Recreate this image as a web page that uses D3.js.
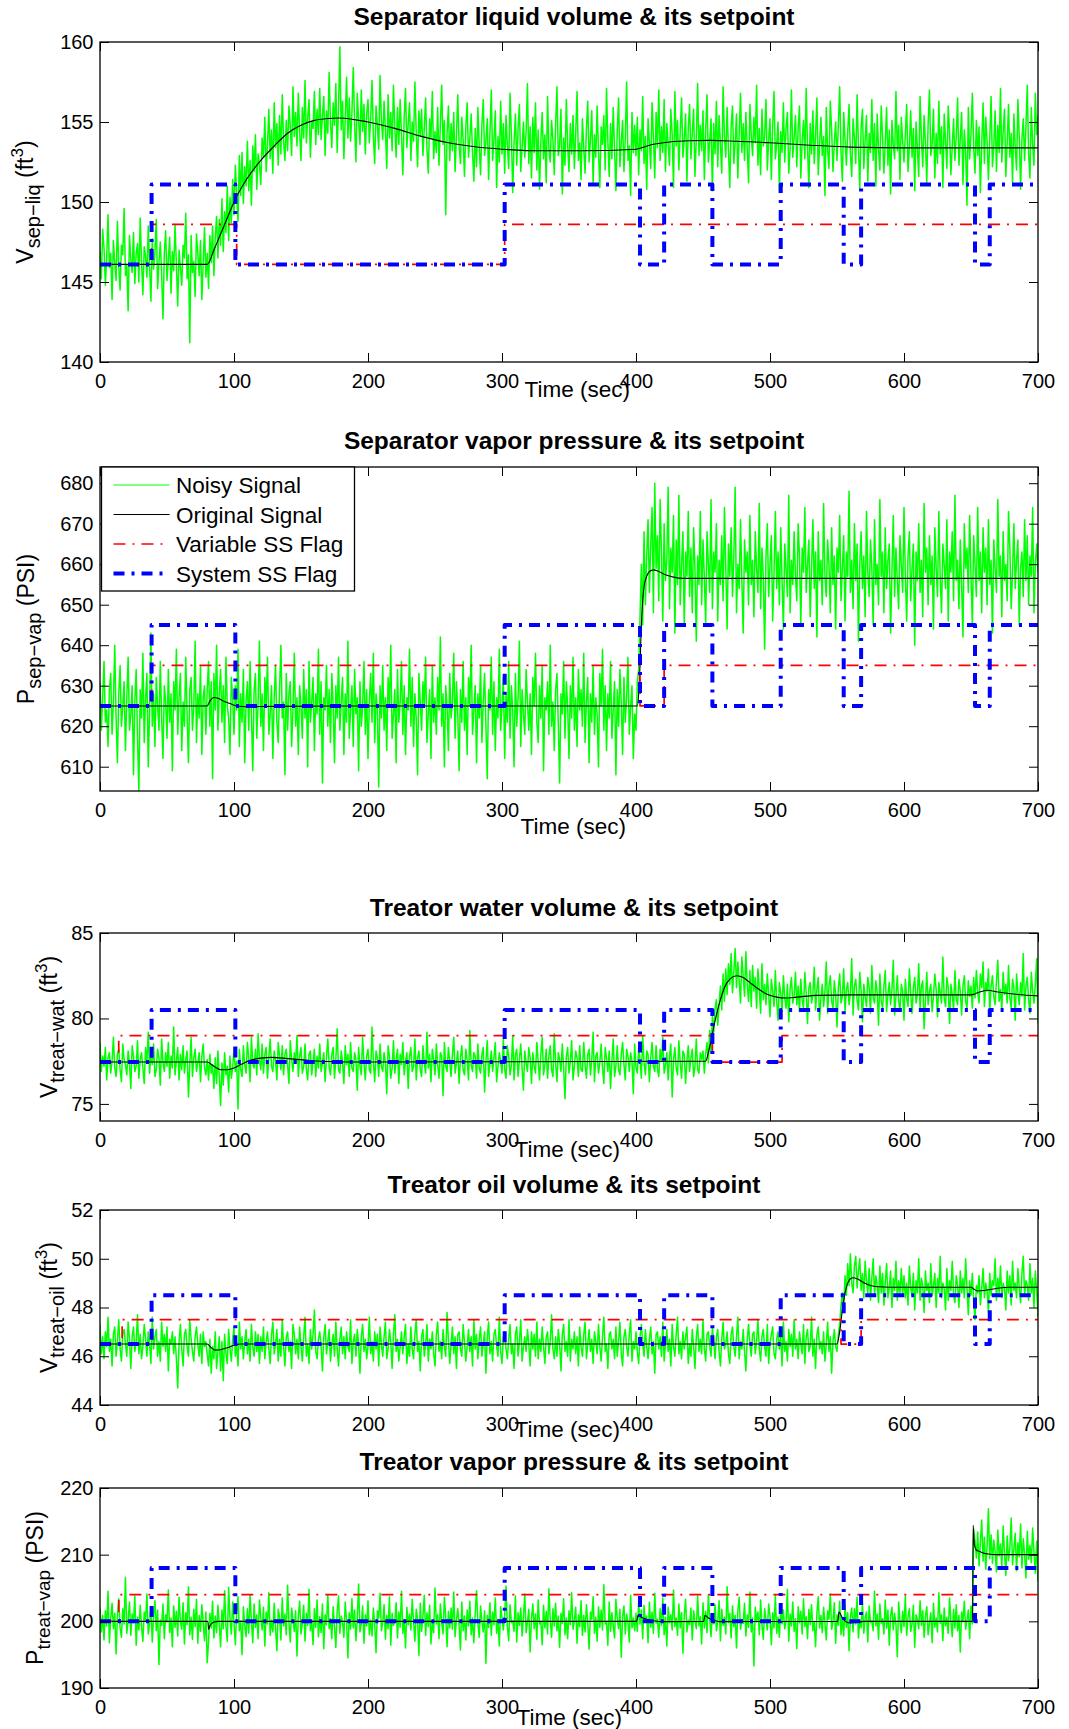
<!DOCTYPE html>
<html><head><meta charset="utf-8">
<script src="https://cdn.jsdelivr.net/npm/d3@7"></script>
<style>body{margin:0;background:#fff}svg text{font-family:"Liberation Sans",Arial,Helvetica,sans-serif;fill:#000}</style>
</head><body><svg id="chart" width="1069" height="1729"></svg>
<script>
// ---------------- DATA ----------------
const timeTicks = [0, 100, 200, 300, 400, 500, 600, 700];
const sampleStep = 1; // seconds between noisy samples (t = 0 ... 700)
const legendLabels = ["Noisy Signal", "Original Signal", "Variable SS Flag", "System SS Flag"];

// System steady-state flag (common to all panels): transition times and state (0 = low, 1 = high)
const systemFlagTimes = [0, 38.5, 101, 302, 403, 421, 457, 508, 555, 568, 653, 664, 700];
const systemFlagStates = [0, 1, 0, 1, 0, 1, 0, 1, 0, 1, 0, 1, 1];

// ---- Panel 1: Separator liquid volume ----
const sepLiqTitle = "Separator liquid volume & its setpoint";
const sepLiqYTicks = [140, 145, 150, 155, 160];
const sepLiqOrigTimes = [0, 80, 85, 90, 95, 100, 110, 120, 130, 140, 150, 160, 170, 178, 190, 200, 220, 240, 260, 280, 300, 330, 360, 400, 410, 425, 440, 455, 475, 500, 530, 560, 600, 650, 700];
const sepLiqOrigValues = [146.1, 146.1, 147.0, 148.0, 149.0, 150.0, 151.5, 152.6, 153.5, 154.3, 154.8, 155.1, 155.22, 155.25, 155.15, 155.0, 154.6, 154.1, 153.7, 153.45, 153.3, 153.2, 153.2, 153.3, 153.55, 153.75, 153.83, 153.85, 153.8, 153.7, 153.55, 153.43, 153.38, 153.38, 153.38];
const sepLiqVarFlagTimes = [0, 38.5, 102, 302, 700];
const sepLiqVarFlagStates = [0, 1, 0, 1, 1];
const sepLiqVarLevels = [146.1, 148.6];
const sepLiqSysLevels = [146.1, 151.1];
const sepLiqNoisy = [
146.9,145.2,148.3,147.1,144.8,146.5,149.2,145.9,146.8,143.9,147.6,146.2,145.1,148.8,146.0,144.5,147.3,146.7,149.6,145.4,
146.1,143.2,147.9,146.4,145.6,148.1,144.9,146.8,147.4,145.0,149.0,146.3,144.2,147.2,146.6,145.3,148.5,146.0,143.8,147.7,
145.8,146.9,148.9,144.6,146.2,147.5,145.5,142.7,146.8,148.2,145.1,146.4,147.8,144.3,146.9,145.7,148.6,146.1,143.5,147.0,
145.9,144.8,147.3,146.5,149.3,145.2,146.7,141.2,147.9,145.6,146.3,144.1,148.0,146.8,145.4,147.6,143.9,146.2,148.4,145.3,
146.8,144.6,147.9,146.2,148.5,145.4,147.8,149.1,146.5,148.9,147.3,150.2,146.9,149.4,148.1,151.0,147.6,150.3,148.7,151.4,
149.2,152.3,150.6,148.8,152.9,150.4,153.1,149.9,152.2,151.0,153.8,150.7,152.6,149.8,153.5,151.9,154.2,150.8,153.0,152.4,
151.1,154.0,152.8,155.3,151.9,153.6,155.8,152.7,154.5,151.8,156.2,153.4,154.9,152.3,155.4,153.0,156.7,153.8,152.6,155.1,
153.2,156.0,154.7,152.9,157.2,154.1,155.6,153.5,156.8,154.4,152.6,155.9,154.0,157.6,153.7,155.3,156.4,152.8,155.0,154.6,
156.9,153.6,155.8,154.2,157.1,153.9,155.4,156.6,152.9,155.7,154.3,158.1,155.0,153.4,156.2,154.8,157.4,153.1,155.9,159.7,
154.5,156.3,152.7,155.2,157.8,154.0,156.5,153.8,155.6,158.4,154.9,152.5,156.8,155.1,153.6,157.0,154.4,156.1,153.0,155.5,
156.4,153.7,155.2,157.6,154.1,152.4,156.0,154.8,153.3,157.9,155.1,153.9,156.3,154.5,152.1,156.7,154.0,155.6,153.2,157.3,
154.7,152.8,155.9,153.6,156.4,154.2,151.7,155.3,157.1,153.4,154.9,156.2,152.6,155.0,153.8,157.5,154.3,152.2,155.7,154.1,
155.8,152.9,154.6,156.5,153.3,151.8,155.2,154.0,156.9,152.7,154.4,153.1,155.9,152.3,154.8,157.3,153.6,155.1,149.2,154.3,
156.0,152.6,154.9,153.2,155.6,151.9,154.1,156.7,153.5,152.4,155.3,153.9,151.6,154.7,156.2,152.8,154.0,155.5,153.1,151.3,
154.6,152.2,155.9,153.5,151.7,154.8,156.4,152.9,153.8,155.2,151.4,154.3,157.0,152.6,153.9,155.7,150.9,154.1,152.5,156.3,
153.0,154.9,151.8,155.4,153.6,152.1,156.8,154.2,150.6,153.7,155.5,152.3,154.6,156.1,151.9,153.4,155.0,152.8,154.4,157.4,
152.4,154.7,151.5,155.3,153.1,156.2,152.0,154.5,150.8,153.8,155.6,152.7,154.2,151.2,156.6,153.3,152.5,155.1,153.9,151.7,
154.8,157.2,152.9,153.6,155.8,150.5,154.0,152.3,156.4,153.5,151.9,154.9,153.0,155.4,152.1,154.3,156.9,152.6,153.7,151.4,
155.2,153.4,151.8,154.6,156.3,152.5,153.9,155.7,151.1,154.2,152.8,156.0,153.2,150.9,154.7,153.6,155.4,152.0,157.1,153.8,
151.6,154.9,152.7,155.9,153.3,150.7,154.4,156.5,152.2,153.7,155.1,151.9,154.0,157.5,152.6,153.5,150.4,155.6,153.1,154.8,
152.9,155.3,151.7,154.5,153.2,156.6,152.4,154.1,150.8,155.2,153.7,152.1,156.2,154.0,151.5,155.6,153.4,157.0,152.6,154.7,
153.1,156.4,151.9,154.9,153.6,152.3,155.8,154.2,150.9,156.9,153.5,155.1,152.0,154.4,156.5,152.8,153.9,155.5,151.3,154.6,
156.1,152.7,154.3,155.8,151.6,153.9,157.4,152.9,154.8,153.2,155.7,151.4,154.5,156.7,152.5,153.8,155.2,150.7,154.9,153.0,
156.3,152.2,155.4,153.6,151.8,157.2,154.1,152.8,155.9,153.3,150.9,154.7,156.0,152.4,153.7,155.5,151.5,154.3,156.8,153.1,
154.9,152.6,155.6,153.4,151.2,156.1,154.2,152.9,155.3,153.7,157.3,152.3,154.6,151.7,155.8,153.5,154.1,156.4,152.0,153.9,
155.2,151.4,154.8,156.9,152.7,153.6,155.0,150.6,154.4,153.1,156.2,152.5,154.7,155.6,151.8,153.3,157.0,152.8,154.0,155.4,
152.2,154.6,156.0,151.5,153.8,155.1,152.7,157.1,153.4,150.9,154.9,153.0,155.7,152.4,154.2,156.5,151.7,153.6,155.3,152.9,
154.1,150.4,155.9,153.2,152.1,156.3,154.5,151.9,153.7,155.0,152.6,154.8,157.2,153.1,151.3,155.6,153.9,152.3,154.4,156.1,
153.0,151.6,155.2,154.0,152.4,156.7,153.5,150.8,154.6,155.8,152.1,153.9,155.4,151.3,154.3,153.1,156.4,152.6,154.9,151.0,
155.5,153.3,152.0,156.0,154.1,151.8,153.7,155.9,152.3,154.5,150.5,155.1,153.6,152.7,156.9,153.2,154.8,151.4,155.3,153.8,
152.5,154.2,156.1,151.9,153.4,155.7,152.8,154.6,150.7,155.0,153.3,151.6,156.6,154.0,152.2,155.4,153.7,151.2,154.9,157.0,
152.9,153.6,155.8,151.5,154.3,152.4,156.3,153.0,154.7,150.9,155.5,153.8,152.1,156.0,154.4,151.7,153.5,155.2,152.6,154.1,
156.5,152.3,153.9,155.6,151.1,154.5,153.2,149.8,155.9,152.7,154.2,156.8,153.4,151.8,155.1,152.9,154.7,150.6,153.6,156.2,
152.4,155.3,153.8,151.4,154.0,156.6,152.2,153.5,155.7,151.9,154.8,153.1,157.1,152.5,154.4,155.8,151.6,153.7,156.1,152.8,
154.3,151.2,155.5,153.4,152.0,156.4,154.1,150.8,153.9,155.2,152.6,154.7,157.3,153.0,151.5,155.9,153.6,152.3,156.8,154.2,155.4
];

// ---- Panel 2: Separator vapor pressure ----
const sepVapTitle = "Separator vapor pressure & its setpoint";
const sepVapYTicks = [610, 620, 630, 640, 650, 660, 670, 680];
const sepVapOrigTimes = [0, 80, 82, 85, 88, 92, 97, 102, 110, 130, 200, 401, 402, 403, 404, 405, 406, 408, 410, 413, 417, 422, 428, 435, 700];
const sepVapOrigValues = [625, 625, 626.2, 627.1, 626.9, 626.2, 625.6, 625.0, 624.8, 624.9, 625, 625, 628, 635, 645, 651, 654.5, 657, 658.2, 658.6, 658.2, 657.4, 656.8, 656.5, 656.5];
const sepVapVarFlagTimes = [0, 38.5, 403, 421, 700];
const sepVapVarFlagStates = [0, 1, 0, 1, 1];
const sepVapVarLevels = [625, 635];
const sepVapSysLevels = [625, 645];
const sepVapNoisy = [
631,619,627,636,621,624,615,629,633,618,626,640,622,611,628,635,620,625,631,614,
627,637,619,623,630,608,626,634,617,604,629,622,638,616,627,633,610,624,643,620,
628,615,632,625,619,636,622,612,630,626,617,634,621,628,609,631,624,639,618,627,
633,614,626,620,637,623,611,629,632,619,625,641,616,628,622,635,613,627,630,618,
629,636,620,631,607,633,624,640,619,628,634,621,630,616,637,625,622,613,632,627,
618,630,624,639,615,628,621,634,611,626,631,619,636,623,609,629,633,617,626,641,
620,628,614,632,625,637,618,623,630,612,627,635,621,616,629,640,622,626,608,633,
619,628,631,615,624,638,620,627,613,630,625,617,634,622,629,610,636,621,626,632,
614,628,623,639,618,631,606,627,624,635,620,629,616,633,625,611,630,622,637,619,
626,632,613,628,621,641,617,624,630,615,634,623,627,609,631,620,625,636,618,629,
612,626,633,621,638,616,628,624,605,630,622,635,619,627,614,632,625,640,617,623,
629,611,634,621,626,636,618,630,613,627,624,639,620,632,615,628,622,608,633,626,
619,631,625,637,616,623,629,612,635,621,627,618,632,624,642,620,628,610,630,625,
614,633,622,626,638,617,631,623,609,629,621,636,619,627,613,632,625,640,618,624,
630,611,628,622,635,616,626,633,620,607,629,624,637,618,631,614,627,622,639,619,
625,632,612,628,621,636,617,630,624,610,633,620,627,641,615,629,623,618,634,626,
619,628,613,632,625,638,621,616,630,622,635,609,627,624,631,618,640,620,626,614,
629,633,621,606,628,623,636,617,631,625,612,630,622,637,619,627,615,634,624,629,
620,638,616,626,632,611,628,621,635,618,627,623,610,633,625,639,619,630,614,628,
622,636,617,624,631,608,629,620,634,626,613,632,621,627,637,618,625,630,612,623,
619,631,634,647,660,645,668,650,662,671,653,665,674,648,680,659,667,651,676,663,
646,670,656,661,679,649,664,658,672,643,666,655,677,650,660,668,645,663,657,673,
652,664,648,669,659,641,662,655,673,650,666,657,645,668,660,653,676,649,663,658,
670,646,661,655,667,651,674,659,644,665,657,669,652,662,679,648,660,654,671,656,
643,666,658,663,650,672,655,661,647,668,659,653,675,649,664,657,639,662,670,652,
660,667,646,658,673,654,663,650,669,656,644,665,659,652,677,648,661,655,668,657,
651,670,662,645,664,658,674,653,660,666,647,659,671,654,663,642,668,656,661,650,
675,657,652,666,660,648,669,655,662,644,664,658,672,651,659,667,646,663,657,678,
653,661,649,670,656,665,641,660,668,654,662,647,673,658,652,666,659,645,671,655,
660,650,676,657,663,648,669,654,661,665,643,658,672,652,664,656,649,667,660,653,
674,657,646,662,668,651,659,665,640,663,656,670,653,661,647,675,658,664,650,667,
655,662,644,669,659,652,673,657,648,665,660,654,671,646,663,658,668,651,677,656,
661,649,666,655,642,670,659,664,653,672,657,645,667,660,652,674,656,663,648,669,
658,664,650,671,655,661,643,666,659,653,676,657,662,647,668,656,660,651,673,664,
649,658,670,654,661,666,645,659,663,652,671,656,667,650,662,657,674,648,660,665,658
];

// ---- Panel 3: Treator water volume ----
const treatWatTitle = "Treator water volume & its setpoint";
const treatWatYTicks = [75, 80, 85];
const treatWatOrigTimes = [0, 80, 85, 90, 95, 100, 105, 112, 120, 128, 140, 155, 170, 200, 452, 454, 456, 458, 460, 463, 466, 470, 475, 480, 485, 490, 497, 505, 512, 520, 535, 560, 650, 655, 662, 670, 685, 700];
const treatWatOrigValues = [77.45, 77.45, 77.2, 77.0, 77.0, 77.1, 77.3, 77.55, 77.68, 77.72, 77.65, 77.55, 77.48, 77.45, 77.5, 78.0, 78.7, 79.5, 80.2, 81.1, 81.8, 82.3, 82.5, 82.4, 82.1, 81.8, 81.45, 81.25, 81.2, 81.25, 81.35, 81.38, 81.38, 81.5, 81.65, 81.55, 81.4, 81.32];
const treatWatVarFlagTimes = [0, 14, 457, 509, 700];
const treatWatVarFlagStates = [0, 1, 0, 1, 1];
const treatWatVarLevels = [77.45, 79.0];
const treatWatSysLevels = [77.45, 80.5];
const treatWatNoisy = [
78.6,76.9,77.8,77.2,78.3,76.4,77.7,78.0,76.8,77.5,78.9,77.1,76.6,77.9,78.2,77.0,76.3,78.5,77.6,77.3,
76.7,78.1,77.4,75.9,78.4,77.8,76.9,77.2,78.7,76.5,77.6,78.0,77.1,76.2,78.3,77.5,79.2,76.8,77.9,77.3,
78.5,76.6,77.0,78.2,77.7,76.1,78.8,77.4,76.9,78.0,77.2,78.6,76.5,77.8,77.1,79.5,76.7,77.5,78.3,76.4,
77.9,77.0,78.4,76.8,77.6,78.1,75.4,77.3,78.9,76.6,77.7,78.2,76.9,77.4,78.0,76.3,77.8,78.5,77.1,76.7,
77.6,76.4,77.9,76.8,77.3,75.9,77.7,76.2,78.1,76.6,74.9,77.4,76.1,78.0,76.7,77.2,75.7,77.8,76.5,77.1,
78.3,76.9,77.5,74.7,78.2,77.0,76.6,78.4,77.3,76.8,78.6,77.7,76.3,78.9,77.4,77.1,78.2,76.7,79.1,77.6,
77.0,78.5,76.8,77.9,78.3,76.5,77.7,78.8,77.2,76.9,78.1,77.5,76.4,78.6,77.8,77.0,78.4,76.7,77.9,78.2,
77.3,76.2,78.7,77.6,76.9,78.0,77.4,79.0,76.6,77.8,78.3,76.8,77.2,78.5,77.0,76.4,77.9,78.1,76.7,77.5,
78.2,76.6,77.8,77.1,78.5,76.9,77.4,78.0,76.3,77.7,78.8,77.2,76.7,77.9,78.3,76.5,77.6,79.4,77.0,76.8,
78.1,77.5,76.2,78.4,77.3,77.9,76.6,78.6,77.1,76.9,78.0,77.6,75.8,78.3,77.2,76.7,78.9,77.4,76.4,77.8,
78.2,77.0,76.8,79.5,77.5,76.3,78.1,77.7,76.6,78.5,77.2,76.9,78.0,77.4,75.6,78.4,77.8,76.5,77.1,78.7,
76.8,77.6,78.2,76.2,77.9,77.3,78.6,76.7,77.5,78.0,75.9,77.8,78.3,76.9,77.2,78.8,76.4,77.7,78.1,77.0,
76.6,78.4,77.4,76.8,79.2,77.1,77.9,76.3,78.2,77.6,76.7,78.5,77.3,76.5,78.0,77.8,75.5,78.6,77.2,76.9,
78.3,77.5,76.6,77.9,78.9,76.8,77.4,78.1,76.2,77.7,78.4,77.0,76.7,78.2,77.6,76.4,79.3,77.3,76.9,78.0,
77.8,76.5,78.5,77.1,76.8,77.9,78.3,75.7,77.5,78.7,76.6,77.4,78.1,76.9,77.7,78.6,76.3,77.2,78.0,77.5,
76.8,78.8,77.0,76.5,78.4,77.8,76.7,77.3,79.0,76.4,77.9,78.2,76.6,77.6,78.5,77.1,75.8,78.1,77.4,76.9,
78.3,77.7,76.2,78.0,77.2,76.8,78.6,77.5,76.4,77.9,78.9,76.7,77.3,78.2,76.5,77.8,78.4,77.0,76.6,79.1,
77.4,76.3,78.0,77.6,76.9,78.5,77.1,75.3,77.8,78.3,76.8,77.5,78.7,76.4,77.2,78.1,77.7,76.6,78.4,77.0,
76.9,78.6,77.3,76.5,77.9,78.2,76.7,77.6,79.2,76.3,77.8,78.0,76.8,77.4,78.5,77.1,76.2,78.3,77.7,76.9,
78.1,75.9,77.5,78.8,76.6,77.2,78.4,77.0,76.7,77.9,78.6,77.3,76.4,78.2,77.8,76.9,78.0,77.5,75.6,78.5,
77.1,76.8,78.3,77.6,76.5,79.0,77.4,76.7,78.1,77.9,76.3,77.7,78.6,77.2,76.9,78.4,77.0,76.6,78.2,77.5,
78.9,76.8,77.3,78.0,76.4,77.8,78.5,75.4,77.6,78.3,77.1,76.7,78.7,77.4,76.5,78.1,77.9,76.2,77.5,78.4,
76.9,77.7,78.2,76.6,77.2,78.8,77.0,76.8,78.0,77.6,
78.1,76.8,77.9,78.6,77.4,79.3,78.0,80.1,79.2,80.6,81.1,79.6,80.8,81.9,80.5,82.6,81.0,82.9,81.4,83.2,
82.0,83.8,81.5,82.7,84.1,81.8,83.3,82.2,80.9,83.6,82.5,81.3,83.9,82.0,81.0,82.8,80.7,83.1,81.6,82.4,
80.6,82.9,81.7,80.3,83.2,81.1,82.0,80.8,82.6,81.4,80.1,82.3,81.6,80.7,82.8,81.0,79.9,82.1,81.5,80.4,
82.5,81.2,80.6,82.0,79.8,81.7,82.4,80.9,81.3,82.7,
80.8,81.9,80.4,82.3,81.1,80.6,82.7,81.5,79.7,81.8,82.1,80.9,81.4,83.0,80.5,81.7,82.4,79.9,81.2,82.0,
80.7,81.6,83.3,80.3,81.9,82.5,81.0,80.6,82.2,81.4,79.5,81.8,82.6,80.9,81.3,82.9,80.4,81.7,82.1,80.8,
81.5,83.5,80.2,81.9,82.3,81.1,80.5,82.7,81.6,79.8,82.0,81.3,80.7,82.4,81.8,80.3,83.1,81.2,80.9,82.2,
81.5,79.6,82.6,81.0,80.6,81.9,82.8,80.4,81.4,82.1,80.8,81.7,83.4,80.2,81.3,82.5,81.0,80.5,82.0,81.6,
79.9,82.3,81.2,80.7,82.9,81.5,80.3,81.8,82.4,80.9,81.4,83.2,80.6,81.9,82.2,79.4,81.1,82.7,80.8,81.6,
82.0,80.4,81.3,82.6,81.7,80.1,82.1,81.5,80.9,83.6,81.2,80.7,82.4,81.8,79.7,82.0,81.4,80.5,82.8,81.1,
80.8,82.3,81.6,80.2,81.9,82.5,81.0,80.6,82.2,81.3,
81.9,80.6,82.4,81.2,82.8,81.5,80.9,82.6,81.8,83.3,80.7,82.1,81.6,82.9,80.4,81.9,82.5,81.3,80.8,82.2,
83.4,81.0,81.7,80.5,82.7,81.4,82.0,80.9,83.1,81.2,80.6,82.3,81.8,79.9,82.6,81.5,80.8,82.1,81.3,83.8,
80.5,81.9,82.4,81.1,80.3,82.7,81.6,80.9,82.0,83.5,79.7
];

// ---- Panel 4: Treator oil volume ----
const treatOilTitle = "Treator oil volume & its setpoint";
const treatOilYTicks = [44, 46, 48, 50, 52];
const treatOilOrigTimes = [0, 80, 83, 86, 90, 95, 100, 105, 550, 552, 554, 556, 558, 560, 562, 565, 570, 575, 580, 590, 650, 652, 655, 660, 668, 678, 700];
const treatOilOrigValues = [46.5, 46.5, 46.35, 46.25, 46.27, 46.35, 46.45, 46.5, 46.5, 47.0, 47.9, 48.6, 49.0, 49.18, 49.22, 49.18, 49.02, 48.9, 48.85, 48.83, 48.83, 48.76, 48.68, 48.7, 48.77, 48.83, 48.83];
const treatOilVarFlagTimes = [0, 16.5, 553, 568, 700];
const treatOilVarFlagStates = [0, 1, 0, 1, 1];
const treatOilVarLevels = [46.5, 47.5];
const treatOilSysLevels = [46.5, 48.5];
const treatOilNoisy = [
47.3,46.1,46.8,45.9,47.0,46.4,47.6,46.2,46.7,45.6,46.9,47.2,46.0,46.6,47.5,46.3,45.8,46.9,47.1,46.5,
46.0,47.4,46.7,45.5,46.8,47.2,46.2,46.6,47.7,46.1,46.9,45.9,46.4,47.3,46.7,46.0,47.0,46.5,45.7,47.6,
46.3,46.8,47.1,46.0,46.6,45.8,47.4,46.4,46.9,46.2,47.2,45.4,46.7,46.5,47.0,46.1,46.8,45.9,44.7,46.6,
47.3,46.3,45.6,46.9,47.1,46.4,46.0,47.5,46.7,46.2,45.8,46.8,47.2,46.5,46.0,46.9,45.7,47.0,46.4,46.6,
46.1,45.6,46.7,45.3,46.4,45.9,47.0,45.5,46.2,46.8,45.4,46.6,45.0,46.9,46.1,45.7,47.1,46.3,45.8,46.7,
47.2,46.0,46.5,45.6,47.4,46.3,46.8,45.9,46.6,47.1,46.1,46.7,45.8,47.3,46.4,46.0,47.0,46.2,46.9,45.7,
46.8,46.2,47.2,45.9,46.6,47.0,46.3,45.7,46.9,47.4,46.1,46.5,47.1,45.8,46.7,46.0,47.5,46.4,45.6,46.8,
47.0,46.2,46.6,45.5,47.3,46.9,46.1,46.7,45.9,47.2,46.4,45.8,46.8,47.6,46.0,46.5,45.7,47.1,46.3,46.9,
47.9,46.2,45.9,46.7,47.0,46.4,45.4,46.8,47.3,46.1,46.6,47.1,45.8,46.5,46.9,46.0,47.4,46.3,45.6,46.7,
47.2,46.1,46.8,45.9,47.0,46.4,46.2,47.5,45.7,46.6,46.9,46.0,47.1,46.5,45.3,46.8,47.3,46.2,46.7,45.9,
46.4,47.6,46.1,46.6,45.8,47.0,46.3,46.9,45.6,47.2,46.5,46.0,46.8,47.4,45.9,46.3,47.1,46.6,45.5,46.9,
47.7,46.2,46.7,45.8,46.4,47.0,46.1,46.8,47.3,45.7,46.5,46.0,47.2,46.3,45.9,46.9,47.5,46.2,46.6,45.4,
46.8,47.1,46.0,46.5,47.3,45.8,46.7,46.3,47.0,46.1,45.6,46.9,47.4,46.2,46.6,45.9,47.1,46.4,46.0,47.8,
46.7,45.7,46.5,47.2,46.1,46.8,45.5,46.9,47.0,46.3,46.0,47.3,46.6,45.8,46.4,47.1,46.2,46.8,45.6,47.5,
46.3,46.9,45.9,46.7,47.2,46.0,46.5,47.0,45.3,46.8,47.4,46.1,46.6,45.8,46.9,47.1,46.4,46.0,47.6,46.2,
45.7,46.8,47.0,46.3,45.9,46.7,47.3,46.1,46.5,45.5,46.9,47.2,46.0,46.6,47.5,45.8,46.4,46.8,46.2,47.1,
46.5,45.6,47.0,46.3,46.9,46.0,47.4,45.9,46.7,46.2,47.2,46.4,45.7,46.8,47.0,46.1,46.6,47.7,46.3,45.9,
46.8,46.0,47.1,46.5,45.4,46.9,47.3,46.2,46.6,46.0,47.5,45.8,46.7,46.3,47.0,46.1,46.8,45.6,47.2,46.4,
46.0,46.9,47.4,45.9,46.5,47.1,46.2,46.7,45.7,47.0,46.6,46.1,47.3,46.4,45.8,46.8,47.6,46.2,46.5,45.5,
46.9,47.0,46.3,46.7,45.9,47.2,46.0,46.6,47.4,46.1,45.6,46.8,47.1,46.4,46.0,46.9,47.5,45.8,46.6,46.3,
47.0,46.2,45.7,46.8,47.3,46.5,46.0,47.1,46.4,45.9,46.7,47.2,46.1,46.6,45.3,46.9,47.0,46.3,46.8,46.0,
47.4,45.8,46.5,47.1,46.2,46.7,45.6,47.3,46.4,46.0,46.9,47.6,46.1,46.6,45.9,47.0,46.3,46.8,47.2,45.7,
46.5,46.0,47.1,46.4,45.5,46.8,47.3,46.2,46.7,46.1,47.5,46.3,45.8,46.9,47.0,46.4,46.0,47.2,46.6,45.9,
46.8,47.1,46.2,45.6,46.7,47.4,46.3,46.5,47.0,46.1,45.7,46.9,47.2,46.4,46.0,46.8,47.6,45.9,46.6,46.3,
47.1,46.2,45.4,46.7,47.3,46.5,46.0,46.9,47.0,46.1,46.6,47.5,46.3,45.8,46.8,47.1,46.4,46.0,47.3,45.7,
46.5,46.9,47.2,46.1,45.9,46.7,47.0,46.3,46.8,45.6,47.4,46.2,46.6,45.8,47.1,46.4,46.9,46.0,47.5,46.3,
46.7,45.9,47.0,46.5,46.1,47.3,45.7,46.8,47.1,46.2,46.4,47.6,46.0,46.7,45.5,46.9,47.2,46.3,46.6,46.1,
47.0,45.8,46.5,47.4,46.2,46.8,45.3,46.6,47.1,46.4,
46.2,46.9,47.3,48.1,48.6,47.9,49.3,48.5,49.8,48.9,50.2,49.0,48.6,49.7,50.1,48.8,49.5,50.0,48.7,49.4,
48.4,49.9,49.1,48.6,49.6,48.3,49.2,50.0,48.5,49.3,48.9,48.2,49.7,48.6,49.4,48.1,49.0,49.8,48.4,48.8,
49.5,48.0,49.2,48.7,49.9,48.3,49.1,48.6,49.6,48.5,
49.3,48.4,49.0,48.1,49.7,48.8,48.5,49.4,47.9,49.1,48.6,50.0,48.3,49.2,48.9,47.8,49.5,48.7,49.0,48.2,
49.8,48.5,48.9,49.4,48.0,49.2,48.6,50.1,48.4,49.0,48.8,47.9,49.6,48.3,49.1,48.7,49.9,48.5,48.2,49.3,
48.9,48.0,49.5,48.6,49.2,48.4,50.0,48.8,47.7,49.1,48.5,49.4,48.2,47.5,48.9,48.6,49.3,48.1,48.8,49.6,
48.4,49.0,48.7,47.8,49.4,48.5,49.1,48.9,50.0,48.3,49.2,48.6,49.7,48.4,49.0,48.8,47.9,49.5,48.6,49.3,
48.1,49.9,48.7,49.0,48.4,49.6,48.8,48.2,49.4,50.1,48.5,49.1,48.9,48.3,49.8,48.6,49.2,48.0,49.5,48.7,
47.6
];

// ---- Panel 5: Treator vapor pressure ----
const treatVapTitle = "Treator vapor pressure & its setpoint";
const treatVapYTicks = [190, 200, 210, 220];
const treatVapOrigTimes = [0, 80.5, 81, 82, 83, 85, 88, 400.5, 401.5, 404, 408, 414, 420, 450.5, 451.5, 454, 458, 462, 550.5, 551.5, 554, 557, 560, 565, 570, 651.2, 651.6, 652.5, 654, 656, 659, 663, 668, 700];
const treatVapOrigValues = [200, 200, 198.8, 199.3, 199.6, 199.9, 200, 200, 200.9, 200.6, 200.3, 200.05, 199.95, 200, 200.9, 200.5, 200.15, 199.95, 200, 201.4, 200.5, 199.9, 199.75, 199.85, 200, 200, 214.4, 211.5, 210.7, 210.5, 210.25, 210.1, 210.0, 210.0];
const treatVapVarFlagTimes = [0, 14, 700];
const treatVapVarFlagStates = [0, 1, 1];
const treatVapVarLevels = [200, 204];
const treatVapSysLevels = [200, 208];
const treatVapNoisy = [
202.1,198.4,200.9,197.2,201.6,199.3,204.5,196.8,200.4,202.7,198.9,201.2,195.1,200.7,203.4,199.0,197.6,201.9,199.6,206.6,
198.2,200.3,202.9,197.9,201.1,199.8,203.8,196.4,200.6,198.7,202.4,199.2,197.0,201.4,200.1,204.1,198.1,199.7,202.0,196.9,
200.8,203.1,198.6,201.7,193.5,200.2,199.4,202.6,197.4,201.0,199.9,204.7,198.3,200.5,196.2,202.3,199.1,201.5,197.8,203.6,
200.0,198.8,202.8,196.6,201.3,199.5,205.2,198.0,200.6,197.3,201.8,199.2,203.3,196.7,200.9,198.5,202.5,199.7,197.1,201.4,
193.8,196.9,201.2,199.0,203.0,197.5,200.8,198.3,202.4,199.6,196.2,201.7,198.9,204.6,199.3,197.0,205.1,200.4,198.1,202.9,
199.8,196.5,201.3,203.7,198.6,200.1,195.0,202.2,199.4,197.7,201.9,198.2,204.0,200.0,196.8,202.6,199.1,201.0,197.4,203.2,
200.5,198.7,202.1,196.3,201.4,199.6,204.3,197.9,200.2,198.4,202.7,199.0,195.6,201.8,200.6,197.2,203.5,199.3,201.1,198.0,
205.4,199.8,196.9,202.0,200.3,198.5,201.6,194.8,200.9,203.0,198.1,199.7,202.4,197.0,201.2,199.4,204.8,198.6,200.0,196.5,
201.9,199.1,203.2,197.7,200.7,198.3,202.6,195.9,201.0,199.5,204.0,198.9,200.4,197.4,202.2,199.2,196.1,201.5,203.8,198.2,
200.8,199.9,197.6,202.9,200.1,194.5,201.3,198.8,203.4,199.0,201.7,197.1,200.6,205.6,198.4,199.6,202.3,196.7,201.0,199.3,
203.1,198.0,200.2,197.8,202.0,199.7,195.3,201.6,200.5,204.2,198.6,199.8,202.5,197.3,200.9,198.9,203.7,196.4,201.2,199.4,
200.0,202.8,197.5,201.4,199.1,204.5,198.2,200.3,196.0,202.1,199.5,201.1,198.7,203.3,199.9,197.0,201.8,200.4,194.9,202.7,
198.5,200.7,203.9,197.9,201.3,199.2,202.4,196.6,200.1,198.3,205.0,199.6,201.0,197.4,202.6,199.8,198.1,203.6,200.6,196.2,
201.5,199.0,202.0,198.8,204.4,197.7,200.2,201.9,199.4,195.7,202.9,198.6,200.8,197.2,201.7,199.3,203.0,198.0,200.5,196.8,
201.2,204.6,199.7,197.6,202.3,200.0,198.4,201.6,193.7,200.9,199.1,202.8,197.9,201.4,199.5,203.5,198.2,200.3,196.3,202.2,
200.6,198.7,201.0,205.3,199.2,197.1,202.5,199.8,200.1,198.5,203.8,196.9,201.3,199.4,202.0,197.8,200.7,204.1,198.3,199.9,
201.8,195.4,200.4,202.6,198.9,201.1,197.3,203.2,199.6,200.0,196.5,202.4,199.0,201.5,198.1,204.9,200.2,197.6,201.9,199.3,
202.7,198.6,200.8,196.1,201.2,199.7,203.4,198.0,200.5,197.4,201.6,199.5,204.3,198.8,200.1,202.1,196.7,201.0,199.2,203.1,
197.9,200.9,198.4,202.5,199.8,195.8,201.4,200.3,203.7,198.2,200.6,197.0,202.2,199.1,201.7,198.7,205.5,199.6,200.0,196.4,
202.9,198.5,201.3,199.4,197.5,203.3,200.4,198.9,201.8,194.6,200.7,202.3,198.1,201.1,199.9,196.9,203.9,199.0,200.5,198.6,
201.2,198.5,203.0,199.6,201.7,197.4,202.4,199.9,200.8,196.8,202.9,199.1,201.4,198.2,204.2,199.7,200.3,197.6,201.9,199.4,
203.5,198.0,200.6,196.3,202.1,199.8,201.0,198.7,204.7,199.2,200.5,197.9,202.6,199.0,201.3,195.2,200.9,203.3,198.4,200.2,
199.5,202.0,197.2,201.6,200.1,198.9,203.8,199.3,200.7,196.6,202.8,199.0,201.5,198.3,204.0,200.4,197.7,201.1,199.6,202.5,
198.6,200.0,203.1,197.1,201.8,199.4,200.6,198.1,205.2,199.8,201.2,197.5,202.3,199.2,200.9,196.0,201.6,203.6,198.8,200.3,
199.7,202.7,197.8,201.0,199.1,204.4,198.4,200.5,193.3,202.1,199.9,201.4,198.0,203.2,199.5,197.3,201.9,200.2,198.7,202.6,
200.8,196.5,201.3,199.0,203.9,198.2,200.6,197.6,202.0,199.6,201.7,198.9,200.1,204.8,197.0,201.1,199.3,202.9,198.5,200.4,
195.9,202.2,199.8,201.5,198.1,203.4,199.2,200.7,197.4,201.8,199.5,202.5,198.6,200.0,196.2,201.2,203.7,199.0,200.9,198.3,
202.1,199.7,197.2,201.6,200.3,204.1,198.8,199.9,202.8,196.7,201.0,199.4,203.0,198.0,200.6,197.8,202.4,199.1,201.3,195.6,
200.8,202.0,198.4,201.9,199.6,203.6,197.5,200.2,199.0,202.7,198.2,200.5,201.4,196.9,202.3,199.8,200.1,198.6,204.5,199.3,
201.1,197.3,202.6,199.7,200.4,198.1,203.2,199.0,201.7,196.4,200.9,202.1,198.7,201.2,199.5,194.7,202.9,200.0,198.3,201.5,
199.2,203.8,197.9,200.7,201.9,198.5,199.6,202.4,196.1,201.0,200.3,198.9,203.1,199.4,201.6,197.6,200.8,202.2,198.0,199.8,
201.3,196.8,202.7,199.1,200.5,198.4,204.3,199.7,201.0,197.1,202.0,199.3,200.6,198.2,203.5,200.1,197.7,201.8,199.0,202.5,
198.6,200.9,195.4,201.4,199.9,203.0,198.8,200.2,201.7,197.4,202.3,199.6,
213.8,212.1,209.5,213.4,208.3,211.9,215.2,209.0,212.6,207.8,211.3,216.9,209.4,213.0,208.7,212.2,210.5,207.4,213.7,209.8,
211.6,208.1,214.3,210.2,206.9,212.8,209.1,211.0,215.5,208.5,210.9,213.2,207.6,211.8,209.7,214.6,208.0,212.4,210.1,206.5,
213.5,209.3,211.4,208.8,214.0,210.4,207.2,212.0,206.0
];

// ---------------- LAYOUT ----------------
const W = 1069, H = 1729;
const plotLeft = 100, plotRight = 1038;
const colors = {noisy: "#00ff00", orig: "#000000", varFlag: "#ff0000", sysFlag: "#0000ff"};

const panels = [
  {title: sepLiqTitle, yTicks: sepLiqYTicks, domain: [140, 160], noisy: sepLiqNoisy, oT: sepLiqOrigTimes, oV: sepLiqOrigValues,
   vT: sepLiqVarFlagTimes, vS: sepLiqVarFlagStates, vL: sepLiqVarLevels, sL: sepLiqSysLevels,
   label: [["V", 23, 0], ["sep−liq", 20, 7], [" (ft", 23, -7], ["3", 17, -10], [")", 23, 10]],
   top: 42, bottom: 362, titleBase: 25, xlabBase: 397, xlabEnd: 630, ylabX: 33, legend: false},
  {title: sepVapTitle, yTicks: sepVapYTicks, domain: [604, 684], noisy: sepVapNoisy, oT: sepVapOrigTimes, oV: sepVapOrigValues,
   vT: sepVapVarFlagTimes, vS: sepVapVarFlagStates, vL: sepVapVarLevels, sL: sepVapSysLevels,
   label: [["P", 23, 0], ["sep−vap", 20, 7], [" (PSI)", 23, -7]],
   top: 467, bottom: 791, titleBase: 449, xlabBase: 834, xlabEnd: 626, ylabX: 34, legend: true},
  {title: treatWatTitle, yTicks: treatWatYTicks, domain: [74, 85], noisy: treatWatNoisy, oT: treatWatOrigTimes, oV: treatWatOrigValues,
   vT: treatWatVarFlagTimes, vS: treatWatVarFlagStates, vL: treatWatVarLevels, sL: treatWatSysLevels,
   label: [["V", 23, 0], ["treat−wat", 20, 7], [" (ft", 23, -7], ["3", 17, -10], [")", 23, 10]],
   top: 933, bottom: 1121, titleBase: 916, xlabBase: 1157, xlabEnd: 620, ylabX: 57, legend: false},
  {title: treatOilTitle, yTicks: treatOilYTicks, domain: [44, 52], noisy: treatOilNoisy, oT: treatOilOrigTimes, oV: treatOilOrigValues,
   vT: treatOilVarFlagTimes, vS: treatOilVarFlagStates, vL: treatOilVarLevels, sL: treatOilSysLevels,
   label: [["V", 23, 0], ["treat−oil", 20, 7], [" (ft", 23, -7], ["3", 17, -10], [")", 23, 10]],
   top: 1210, bottom: 1405, titleBase: 1193, xlabBase: 1437, xlabEnd: 620, ylabX: 57, legend: false},
  {title: treatVapTitle, yTicks: treatVapYTicks, domain: [190, 220], noisy: treatVapNoisy, oT: treatVapOrigTimes, oV: treatVapOrigValues,
   vT: treatVapVarFlagTimes, vS: treatVapVarFlagStates, vL: treatVapVarLevels, sL: treatVapSysLevels,
   label: [["P", 23, 0], ["treat−vap", 19, 7], [" (PSI)", 23, -7]],
   top: 1488, bottom: 1688, titleBase: 1470, xlabBase: 1725, xlabEnd: 622, ylabX: 43, legend: false}
];

const svg = d3.select("#chart");
svg.append("rect").attr("width", W).attr("height", H).attr("fill", "#fff");
const x = d3.scaleLinear().domain([0, 700]).range([plotLeft, plotRight]);

const styles = {
  noisy: {stroke: colors.noisy, width: 1.5, dash: null},
  orig: {stroke: colors.orig, width: 1.1, dash: null},
  varFlag: {stroke: colors.varFlag, width: 1.7, dash: "12,7,2,7"},
  sysFlag: {stroke: colors.sysFlag, width: 4, dash: "11,7,3,7"}
};

panels.forEach((p, pi) => {
  const y = d3.scaleLinear().domain(p.domain).range([p.bottom, p.top]);
  const g = svg.append("g");
  const clipId = "clip" + pi;
  svg.append("clipPath").attr("id", clipId).append("rect")
    .attr("x", plotLeft).attr("y", p.top).attr("width", plotRight - plotLeft).attr("height", p.bottom - p.top);
  const data = g.append("g").attr("clip-path", `url(#${clipId})`);

  const line = d3.line().x(d => x(d[0])).y(d => y(d[1]));
  const smooth = d3.line().x(d => x(d[0])).y(d => y(d[1])).curve(d3.curveMonotoneX);
  const stepLine = d3.line().x(d => x(d[0])).y(d => y(d[1])).curve(d3.curveStepAfter);

  const noisyPts = p.noisy.map((v, i) => [i * sampleStep, v]);
  const origPts = p.oT.map((t, i) => [t, p.oV[i]]);
  const varPts = p.vT.map((t, i) => [t, p.vL[p.vS[i]]]);
  const sysPts = systemFlagTimes.map((t, i) => [t, p.sL[systemFlagStates[i]]]);

  const draw = (pts, gen, st) => data.append("path").attr("d", gen(pts)).attr("fill", "none")
    .attr("stroke", st.stroke).attr("stroke-width", st.width).attr("stroke-linejoin", "round")
    .attr("stroke-dasharray", st.dash);
  draw(noisyPts, line, styles.noisy);
  draw(origPts, smooth, styles.orig);
  draw(varPts, stepLine, styles.varFlag);
  draw(sysPts, stepLine, styles.sysFlag);

  // axes (inward ticks, box)
  const tick = 9;
  const ax = g.append("g");
  ax.append("g").attr("transform", `translate(0,${p.bottom})`)
    .call(d3.axisBottom(x).tickValues(timeTicks).tickSize(-tick).tickSizeOuter(0).tickPadding(12));
  ax.append("g").attr("transform", `translate(0,${p.top})`)
    .call(d3.axisTop(x).tickValues(timeTicks).tickSize(-tick).tickSizeOuter(0).tickFormat(""));
  ax.append("g").attr("transform", `translate(${plotLeft},0)`)
    .call(d3.axisLeft(y).tickValues(p.yTicks).tickSize(-tick).tickSizeOuter(0).tickPadding(6.5));
  ax.append("g").attr("transform", `translate(${plotRight},0)`)
    .call(d3.axisRight(y).tickValues(p.yTicks).tickSize(-tick).tickSizeOuter(0).tickFormat(""));
  ax.selectAll("g").attr("font-size", null).attr("font-family", null);
  ax.selectAll(".domain").remove();
  ax.selectAll(".tick line").attr("stroke", "#000").attr("stroke-width", 1);
  ax.selectAll(".tick text").style("font-size", "20px").attr("fill", "#000");
  g.append("rect").attr("x", plotLeft).attr("y", p.top).attr("width", plotRight - plotLeft)
    .attr("height", p.bottom - p.top).attr("fill", "none").attr("stroke", "#000").attr("stroke-width", 1.3);

  // title
  g.append("text").attr("x", 574).attr("y", p.titleBase).attr("text-anchor", "middle")
    .style("font-size", "24.5px").style("font-weight", "bold").text(p.title);
  // x label
  g.append("text").attr("x", p.xlabEnd).attr("y", p.xlabBase).attr("text-anchor", "end")
    .style("font-size", "22.5px").text("Time (sec)");
  // y label
  const yl = g.append("text").attr("text-anchor", "middle")
    .attr("transform", `translate(${p.ylabX},${(p.top + p.bottom) / 2}) rotate(-90)`);
  p.label.forEach(([t, s, dy]) => yl.append("tspan").attr("dy", dy).style("font-size", s + "px").text(t));

  if (p.legend) {
    const lg = g.append("g");
    lg.append("rect").attr("x", 101.5).attr("y", 467).attr("width", 253).attr("height", 124)
      .attr("fill", "#fff").attr("stroke", "#000").attr("stroke-width", 1.3);
    const keys = ["noisy", "orig", "varFlag", "sysFlag"];
    legendLabels.forEach((lab, i) => {
      const ly = 485 + i * 29.5;
      const st = styles[keys[i]];
      lg.append("line").attr("x1", 113.5).attr("x2", 169.5).attr("y1", ly).attr("y2", ly)
        .attr("stroke", st.stroke).attr("stroke-width", keys[i] === "noisy" ? 1 : st.width).attr("stroke-dasharray", st.dash);
      lg.append("text").attr("x", 176).attr("y", ly + 8).style("font-size", "22.5px").text(lab);
    });
  }
});
</script></body></html>
